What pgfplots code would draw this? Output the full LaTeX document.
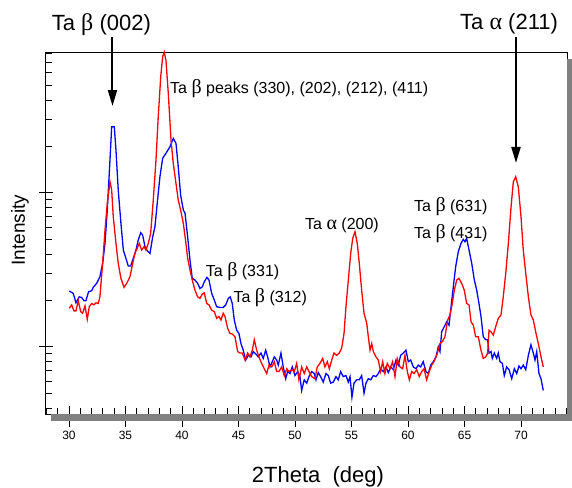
\documentclass[border=0pt]{standalone}
\usepackage{fontspec}
\setmainfont{Liberation Sans}
\newfontfamily\gr{Liberation Serif}
\usepackage{pgfplots}
\usepackage{pgfplotstable}
\pgfplotsset{compat=1.18}
\usetikzlibrary{arrows.meta}

% 2Theta (deg) vs intensity, sample A (blue)
\pgfplotstableread{
x y
30.03 230
30.38 222
30.62 193
30.91 211
31.12 209
31.33 199
31.50 199
31.74 228
32.01 231
32.15 243
32.45 258
32.74 285
32.98 348
33.19 469
33.39 772
33.63 1631
33.78 2683
34.01 2683
34.16 1894
34.36 1041
34.60 633
34.81 425
35.04 375
35.25 334
35.46 334
35.69 375
35.93 425
36.13 493
36.35 550
36.52 531
36.73 446
36.93 420
37.17 404
37.41 518
37.61 602
37.81 854
38.05 1270
38.29 1673
38.58 1803
38.94 1990
39.23 2255
39.47 2093
39.67 1475
39.88 966
40.12 772
40.27 738
40.50 518
40.71 366
40.91 278
41.15 271
41.39 258
41.59 239
41.80 245
41.97 264
42.21 282
42.39 271
42.63 222
42.86 201
43.07 182
43.36 180
43.65 180
43.87 187
44.10 206
44.27 211
44.45 191
44.63 149
44.84 128
45.04 122
45.22 105
45.42 95
45.64 82
45.87 88
46.11 86
46.31 93
46.52 90
46.75 86
46.99 91
47.19 84
47.41 95
47.58 86
47.79 74
47.99 80
48.17 86
48.38 82
48.52 76
48.76 91
48.96 74
49.18 62
49.35 69
49.56 67
49.76 74
50.00 65
50.24 69
50.44 64
50.59 52
50.82 61
51.04 58
51.24 64
51.48 69
51.71 67
51.86 61
52.06 68
52.27 64
52.50 59
52.74 67
52.95 65
53.16 58
53.39 59
53.63 64
53.83 61
54.04 69
54.27 64
54.51 65
54.72 59
54.87 64
55.04 47
55.22 58
55.46 61
55.69 61
55.90 65
56.11 50
56.28 58
56.49 62
56.70 61
56.93 65
57.17 64
57.37 67
57.58 72
57.81 69
58.05 74
58.26 68
58.47 74
58.70 71
58.94 82
59.14 76
59.35 88
59.58 91
59.82 95
60.03 80
60.24 82
60.47 74
60.71 72
60.91 76
61.12 74
61.35 80
61.59 69
61.80 67
62.01 76
62.24 80
62.48 86
62.68 100
62.83 93
62.98 125
63.21 135
63.42 145
63.63 138
63.81 182
64.01 245
64.22 331
64.45 414
64.69 469
64.89 498
65.04 481
65.19 506
65.40 425
65.64 348
65.87 271
66.08 233
66.28 191
66.46 157
66.66 116
66.88 111
67.05 111
67.17 91
67.35 93
67.46 84
67.64 91
67.85 84
67.99 91
68.14 80
68.35 78
68.52 65
68.73 74
68.94 71
69.18 62
69.41 72
69.62 67
69.82 75
70.00 72
70.20 76
70.42 71
70.65 88
70.88 103
71.09 91
71.24 82
71.39 93
71.59 67
71.77 62
71.97 52
}\blueA

% sample B (red)
\pgfplotstableread{
x y
30.03 178
30.24 187
30.44 171
30.62 171
30.82 199
31.04 169
31.21 165
31.42 184
31.62 151
31.80 182
32.01 191
32.21 187
32.39 193
32.59 191
32.74 211
32.98 348
33.19 573
33.39 854
33.63 1179
33.78 1041
33.92 699
34.16 469
34.36 348
34.60 278
34.87 243
35.11 258
35.40 285
35.64 348
35.84 404
36.04 436
36.22 469
36.43 425
36.64 446
36.81 425
37.02 469
37.23 545
37.46 897
37.70 1631
37.90 3116
38.12 5664
38.29 7639
38.43 8190
38.58 7272
38.79 4421
39.03 2199
39.23 1552
39.47 1151
39.67 897
39.88 772
40.12 633
40.35 469
40.50 377
40.71 315
40.91 271
41.15 233
41.39 211
41.59 206
41.80 220
41.97 224
42.19 191
42.39 187
42.63 173
42.86 169
43.07 153
43.27 157
43.45 149
43.65 165
43.81 157
44.04 132
44.25 122
44.45 121
44.69 116
44.93 93
45.13 91
45.34 91
45.58 82
45.81 91
46.02 86
46.22 95
46.40 111
46.61 95
46.81 86
47.05 78
47.28 72
47.50 67
47.70 76
47.94 74
48.17 80
48.38 69
48.58 69
48.82 74
49.05 65
49.27 72
49.47 69
49.71 71
49.94 69
50.15 78
50.35 61
50.59 74
50.82 67
51.04 74
51.24 69
51.48 64
51.77 62
51.97 74
52.21 78
52.45 84
52.65 74
52.86 80
53.04 72
53.25 82
53.45 91
53.69 88
53.92 91
54.13 98
54.34 122
54.51 182
54.72 271
54.93 404
55.11 506
55.31 558
55.51 469
55.69 348
55.90 233
56.11 165
56.35 142
56.49 116
56.64 95
56.79 105
56.93 93
57.17 86
57.37 82
57.58 69
57.76 80
57.96 67
58.17 78
58.41 72
58.64 80
58.85 64
59.05 84
59.29 74
59.53 72
59.73 88
59.94 69
60.12 61
60.33 69
60.53 67
60.77 71
61.00 64
61.21 69
61.42 72
61.65 61
61.88 69
62.10 76
62.30 80
62.54 88
62.83 105
63.04 108
63.27 116
63.51 149
63.72 161
63.92 191
64.10 233
64.31 271
64.51 278
64.75 258
64.98 233
65.19 191
65.40 187
65.58 145
65.78 138
65.99 116
66.22 116
66.46 95
66.66 84
66.88 86
67.05 91
67.17 128
67.35 125
67.55 119
67.76 135
67.99 153
68.23 161
68.43 211
68.65 300
68.88 469
69.12 811
69.32 1179
69.53 1270
69.76 1094
70.00 699
70.20 425
70.42 300
70.65 211
70.88 161
71.09 149
71.30 125
71.53 105
71.77 86
71.97 74
}\redB

\newcommand{\annfont}{\fontsize{16bp}{18bp}\selectfont}
\newcommand{\headfont}{\fontsize{22bp}{26bp}\selectfont}

\begin{document}
\begin{tikzpicture}
\useasboundingbox (0,0) rectangle (572bp,488bp);
\begin{axis}[
  at={(45bp,74bp)}, anchor=south west,
  scale only axis, width=522bp, height=362bp,
  xmin=27.88, xmax=74.07,
  ymode=log, ymin=36.6, ymax=8200,
  enlargelimits=false,
  clip=false,
  axis line style={line width=0.8bp},
  tick pos=left,
  tick align=inside,
  major tick length=8bp, minor tick length=6.5bp,
  every tick/.style={black, line width=0.8bp},
  xtick={30,35,...,70},
  minor xtick={28,29,...,74},
  ytick={100,1000},
  yticklabels={},
  minor ytick={40,50,60,70,80,90,200,300,400,500,600,700,800,900,2000,3000,4000,5000,6000,7000,8000},
  extra x ticks={30,35,...,70},
  extra x tick labels={},
  extra x tick style={tick align=outside, major tick length=13bp},
  extra y ticks={100,1000},
  extra y tick labels={},
  extra y tick style={tick align=outside, major tick length=6bp},
  /pgf/number format/assume math mode=true,
  xticklabel style={font=\fontsize{12bp}{14bp}\selectfont, yshift=-14bp},
  xlabel={2Theta~~(deg)},
  ylabel={Intensity},
  every axis x label/.style={at={(axis description cs:0.523,-0.174)}, anchor=center,
    font=\fontsize{22bp}{24bp}\selectfont},
  every axis y label/.style={at={(axis description cs:-0.048,0.508)}, anchor=center,
    rotate=90, font=\fontsize{19bp}{22bp}\selectfont},
]
\addplot[blue, line width=1.3bp, mark=none] table[x=x, y=y] {\blueA};
\addplot[red, line width=1.3bp, mark=none] table[x=x, y=y] {\redB};

% peak labels
\node[anchor=west, inner sep=0pt] at (rel axis cs:0.2395,0.898)
  {\annfont Ta {\gr\fontsize{20bp}{20bp}\selectfont β} peaks (330), (202), (212), (411)};
\node[anchor=west, inner sep=0pt] at (rel axis cs:0.3079,0.393)
  {\annfont Ta {\gr\fontsize{20bp}{20bp}\selectfont β} (331)};
\node[anchor=west, inner sep=0pt] at (rel axis cs:0.3608,0.3224)
  {\annfont Ta {\gr\fontsize{20bp}{20bp}\selectfont β} (312)};
\node[anchor=west, inner sep=0pt] at (rel axis cs:0.498,0.522)
  {\annfont Ta {\gr\fontsize{20bp}{20bp}\selectfont α} (200)};
\node[anchor=west, inner sep=0pt] at (rel axis cs:0.7069,0.5727)
  {\annfont Ta {\gr\fontsize{20bp}{20bp}\selectfont β} (631)};
\node[anchor=west, inner sep=0pt] at (rel axis cs:0.7069,0.4992)
  {\annfont Ta {\gr\fontsize{20bp}{20bp}\selectfont β} (431)};

% headline reflections with arrows
\node[anchor=west, inner sep=0pt] at (rel axis cs:0.0128,1.077)
  {\headfont Ta {\gr\fontsize{24bp}{24bp}\selectfont β} (002)};
\node[anchor=west, inner sep=0pt] at (rel axis cs:0.795,1.077)
  {\headfont Ta {\gr\fontsize{24bp}{24bp}\selectfont α} (211)};
\draw[line width=2bp, -{Triangle[length=16bp,width=9bp]}]
  (rel axis cs:0.1293,1.0414) -- (rel axis cs:0.1293,0.8508);
\draw[line width=2bp, -{Triangle[length=16bp,width=9bp]}]
  (rel axis cs:0.9023,1.0414) -- (rel axis cs:0.9023,0.6934);
\end{axis}
% gray drop shadow along the right and bottom of the frame
\fill[gray] (567.4bp,67bp) rectangle (574bp,429bp);
\fill[gray] (51bp,67bp) rectangle (574bp,73.6bp);
\end{tikzpicture}
\end{document}
